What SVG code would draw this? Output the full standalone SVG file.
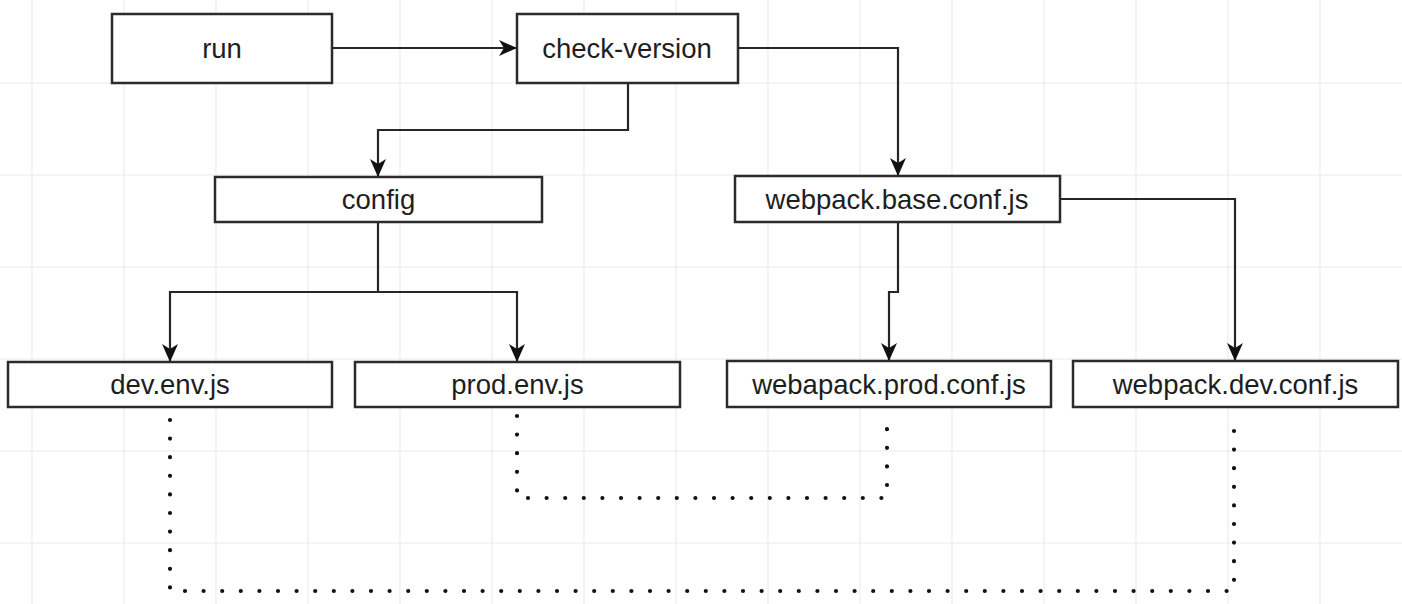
<svg xmlns="http://www.w3.org/2000/svg" width="1402" height="604" viewBox="0 0 1402 604">
  <style>
    .grid line { stroke: #ececec; stroke-width: 1.2; }
    .node rect { fill: #ffffff; stroke: #2b2b2b; stroke-width: 2.5; }
    .node text { font-family: "Liberation Sans", Arial, sans-serif; font-size: 27.5px; fill: #1e1e1e; text-anchor: middle; }
    .edge { fill: none; stroke: #262626; stroke-width: 2.2; }
    .dotted { fill: none; stroke: #111111; stroke-width: 4.2; stroke-linecap: round; stroke-dasharray: 0 18.6; }
  </style>
  <defs>
    <marker id="arrow" markerUnits="userSpaceOnUse" markerWidth="20" markerHeight="18" refX="18" refY="9" orient="auto">
      <path d="M0,1 L18,9 L0,17 L5,9 z" fill="#111111"/>
    </marker>
  </defs>
  <rect x="0" y="0" width="1402" height="604" fill="#ffffff"/>
  <g class="grid">
    <line x1="32" y1="0" x2="32" y2="604"/>
    <line x1="124" y1="0" x2="124" y2="604"/>
    <line x1="216" y1="0" x2="216" y2="604"/>
    <line x1="308" y1="0" x2="308" y2="604"/>
    <line x1="400" y1="0" x2="400" y2="604"/>
    <line x1="492" y1="0" x2="492" y2="604"/>
    <line x1="584" y1="0" x2="584" y2="604"/>
    <line x1="676" y1="0" x2="676" y2="604"/>
    <line x1="768" y1="0" x2="768" y2="604"/>
    <line x1="860" y1="0" x2="860" y2="604"/>
    <line x1="952" y1="0" x2="952" y2="604"/>
    <line x1="1044" y1="0" x2="1044" y2="604"/>
    <line x1="1136" y1="0" x2="1136" y2="604"/>
    <line x1="1228" y1="0" x2="1228" y2="604"/>
    <line x1="1320" y1="0" x2="1320" y2="604"/>
    <line x1="0" y1="83" x2="1402" y2="83"/>
    <line x1="0" y1="175" x2="1402" y2="175"/>
    <line x1="0" y1="267" x2="1402" y2="267"/>
    <line x1="0" y1="359" x2="1402" y2="359"/>
    <line x1="0" y1="451" x2="1402" y2="451"/>
    <line x1="0" y1="543" x2="1402" y2="543"/>
  </g>
  <g id="connectors">
    <path class="edge" d="M332,48 L517,48" marker-end="url(#arrow)"/>
    <path class="edge" d="M628,83 L628,130 L378,130 L378,177" marker-end="url(#arrow)"/>
    <path class="edge" d="M738,48 L898,48 L898,176" marker-end="url(#arrow)"/>
    <path class="edge" d="M378,222 L378,292 L170,292 L170,362" marker-end="url(#arrow)"/>
    <path class="edge" d="M378,292 L517,292 L517,362" marker-end="url(#arrow)"/>
    <path class="edge" d="M898,222 L898,292 L889,292 L889,361" marker-end="url(#arrow)"/>
    <path class="edge" d="M1060,199 L1235,199 L1235,361" marker-end="url(#arrow)"/>
    <path class="dotted" d="M170,420 L170,591 L1234,591 L1234,420"/>
    <path class="dotted" d="M517,416 L517,498 L887,498 L887,420"/>
  </g>
  <g id="node-run" class="node">
    <rect x="112" y="14" width="220" height="69"/>
    <text x="222" y="58">run</text>
  </g>
  <g id="node-check-version" class="node">
    <rect x="517" y="14" width="221" height="69"/>
    <text x="627" y="58">check-version</text>
  </g>
  <g id="node-config" class="node">
    <rect x="215" y="177" width="327" height="45"/>
    <text x="378.5" y="209">config</text>
  </g>
  <g id="node-webpack-base" class="node">
    <rect x="735" y="176" width="325" height="46"/>
    <text x="897" y="209">webpack.base.conf.js</text>
  </g>
  <g id="node-dev-env" class="node">
    <rect x="8" y="362" width="324" height="45"/>
    <text x="170" y="394">dev.env.js</text>
  </g>
  <g id="node-prod-env" class="node">
    <rect x="355" y="362" width="325" height="45"/>
    <text x="517.5" y="394">prod.env.js</text>
  </g>
  <g id="node-webapack-prod" class="node">
    <rect x="727" y="361" width="324" height="46"/>
    <text x="889" y="394">webapack.prod.conf.js</text>
  </g>
  <g id="node-webpack-dev" class="node">
    <rect x="1073" y="361" width="325" height="46"/>
    <text x="1235.5" y="394">webpack.dev.conf.js</text>
  </g>
</svg>
